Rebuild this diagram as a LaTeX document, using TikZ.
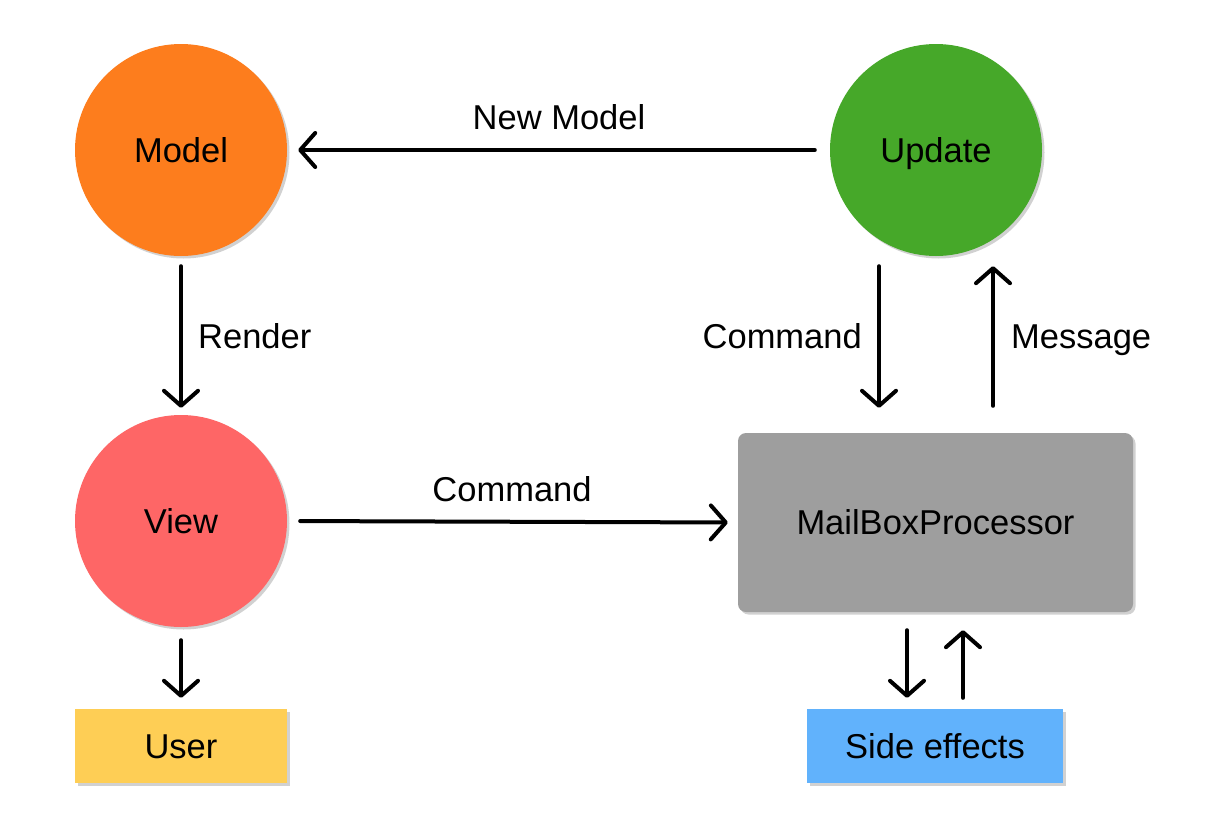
\documentclass[tikz,border=0pt]{standalone}
\usepackage{fontspec}
\setmainfont{Liberation Sans}
\usetikzlibrary{arrows.meta,shadows}
\definecolor{cmodel}{HTML}{FD7D1D}
\definecolor{cupdate}{HTML}{46A829}
\definecolor{cview}{HTML}{FE6666}
\definecolor{cmbp}{HTML}{9E9E9E}
\definecolor{cuser}{HTML}{FECE55}
\definecolor{cside}{HTML}{61B2FC}
\tikzset{
  txt/.style={font=\fontsize{34.5}{40}\selectfont, text=black, text height=24.5pt, text depth=0pt},
  shad/.style={drop shadow={shadow xshift=2.5pt, shadow yshift=-2.5pt, fill=black, opacity=0.18}},
  circ/.style={circle, minimum size=212pt, inner sep=0pt, txt, shad},
  box/.style={rectangle, inner sep=0pt, txt, shad},
  arr/.style={line width=4pt, -{Straight Barb[length=15pt, width=34pt, line width=4pt, round]}, line cap=round},
  lbl/.style={txt, inner sep=0pt}
}
\begin{document}
\begin{tikzpicture}[x=1pt, y=-1pt]
\useasboundingbox[fill=white] (0,0) rectangle (1232,828);
\node[circ, fill=cmodel] (model) at (181,150) {Model};
\node[circ, fill=cupdate] (update) at (936,150) {Update};
\node[circ, fill=cview] (view) at (181,521) {View};
\node[box, fill=cmbp, rounded corners=8pt, minimum width=395pt, minimum height=179pt] (mbp) at (935.5,522.5) {MailBoxProcessor};
\node[box, fill=cuser, minimum width=212pt, minimum height=74pt] (user) at (181,746) {User};
\node[box, fill=cside, minimum width=256pt, minimum height=74pt] (side) at (935,746) {Side effects};

\draw[arr, shorten <=15pt, shorten >=11pt] (update.west) -- (model.east);
\draw[arr, shorten <=10pt, shorten >=7pt] (model.south) -- (view.north);
\draw[arr, shorten <=13pt, shorten >=10pt] (view.east) -- (mbp.west);
\draw[arr] ([xshift=-57pt, yshift=-10pt]update.south) -- ([xshift=-56.5pt, yshift=25pt]mbp.north);
\draw[arr] ([xshift=57.5pt, yshift=27pt]mbp.north) -- ([xshift=57pt, yshift=-10pt]update.south);
\draw[arr, shorten <=13pt, shorten >=11pt] (view.south) -- (user.north);
\draw[arr] ([xshift=-28.5pt, yshift=-18pt]mbp.south) -- ([xshift=-28pt, yshift=11pt]side.north);
\draw[arr] ([xshift=28pt, yshift=11pt]side.north) -- ([xshift=27.5pt, yshift=-18pt]mbp.south);

\node[lbl] (lnew) at (559,117) {New Model};
\node[lbl, anchor=west] (lrender) at (198,336) {Render};
\node[lbl] (lcmd1) at (512,489) {Command};
\node[lbl, anchor=east] (lcmd2) at (862,336) {Command};
\node[lbl, anchor=west] (lmsg) at (1011,336) {Message};
\end{tikzpicture}
\end{document}
